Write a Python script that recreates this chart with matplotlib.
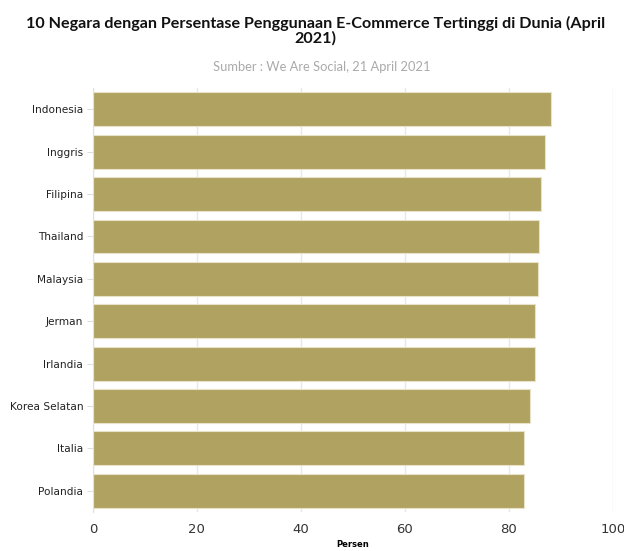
import matplotlib.pyplot as plt
import numpy as np

negara = ['Indonesia', 'Inggris', 'Filipina', 'Thailand', 'Malaysia',
          'Jerman', 'Irlandia', 'Korea Selatan', 'Italia', 'Polandia']
persen = [88.1, 86.9, 86.2, 85.8, 85.6, 85.0, 85.0, 84.1, 83.0, 83.0]
xticks = [0, 20, 40, 60, 80, 100]

fig = plt.figure(figsize=(6.24, 5.51), dpi=100)
ax = fig.add_axes([0.149, 0.071, 0.833, 0.769])

y = np.arange(len(negara))
ax.barh(y, persen, height=0.8, color='#b0a260', edgecolor='#e8e2c8', linewidth=0.8, zorder=2)
ax.set_ylim(len(negara) - 0.5, -0.5)
ax.set_xlim(0, 100)
ax.set_yticks(y)
ax.set_yticklabels(negara, fontsize=7.6, color='#222222', family='DejaVu Sans')
ax.set_xticks(xticks)
ax.set_xticklabels([str(t) for t in xticks], fontsize=9.5, color='#333333')
ax.tick_params(axis='y', length=4, color='#dddddd', pad=3)
ax.tick_params(axis='x', length=0, pad=8)
ax.grid(axis='x', color='#e8e8e8', linewidth=1, zorder=0)
for s in ['top', 'right', 'bottom']:
    ax.spines[s].set_visible(False)
ax.spines['left'].set_color('#e0e0e0')

ax.set_xlabel('Persen', fontsize=6, fontweight='bold', labelpad=3)

fig.text(0.505, 0.945, '10 Negara dengan Persentase Penggunaan E-Commerce Tertinggi di Dunia (April\n2021)',
         ha='center', va='center', fontsize=11.6, fontweight='bold', family='Lato',
         linespacing=1.0, color='#111111')
fig.text(0.515, 0.878, 'Sumber : We Are Social, 21 April 2021', ha='center', va='center',
         fontsize=9.3, color='#aaaaaa', family='Lato')

fig.savefig('out.png', dpi=100)
